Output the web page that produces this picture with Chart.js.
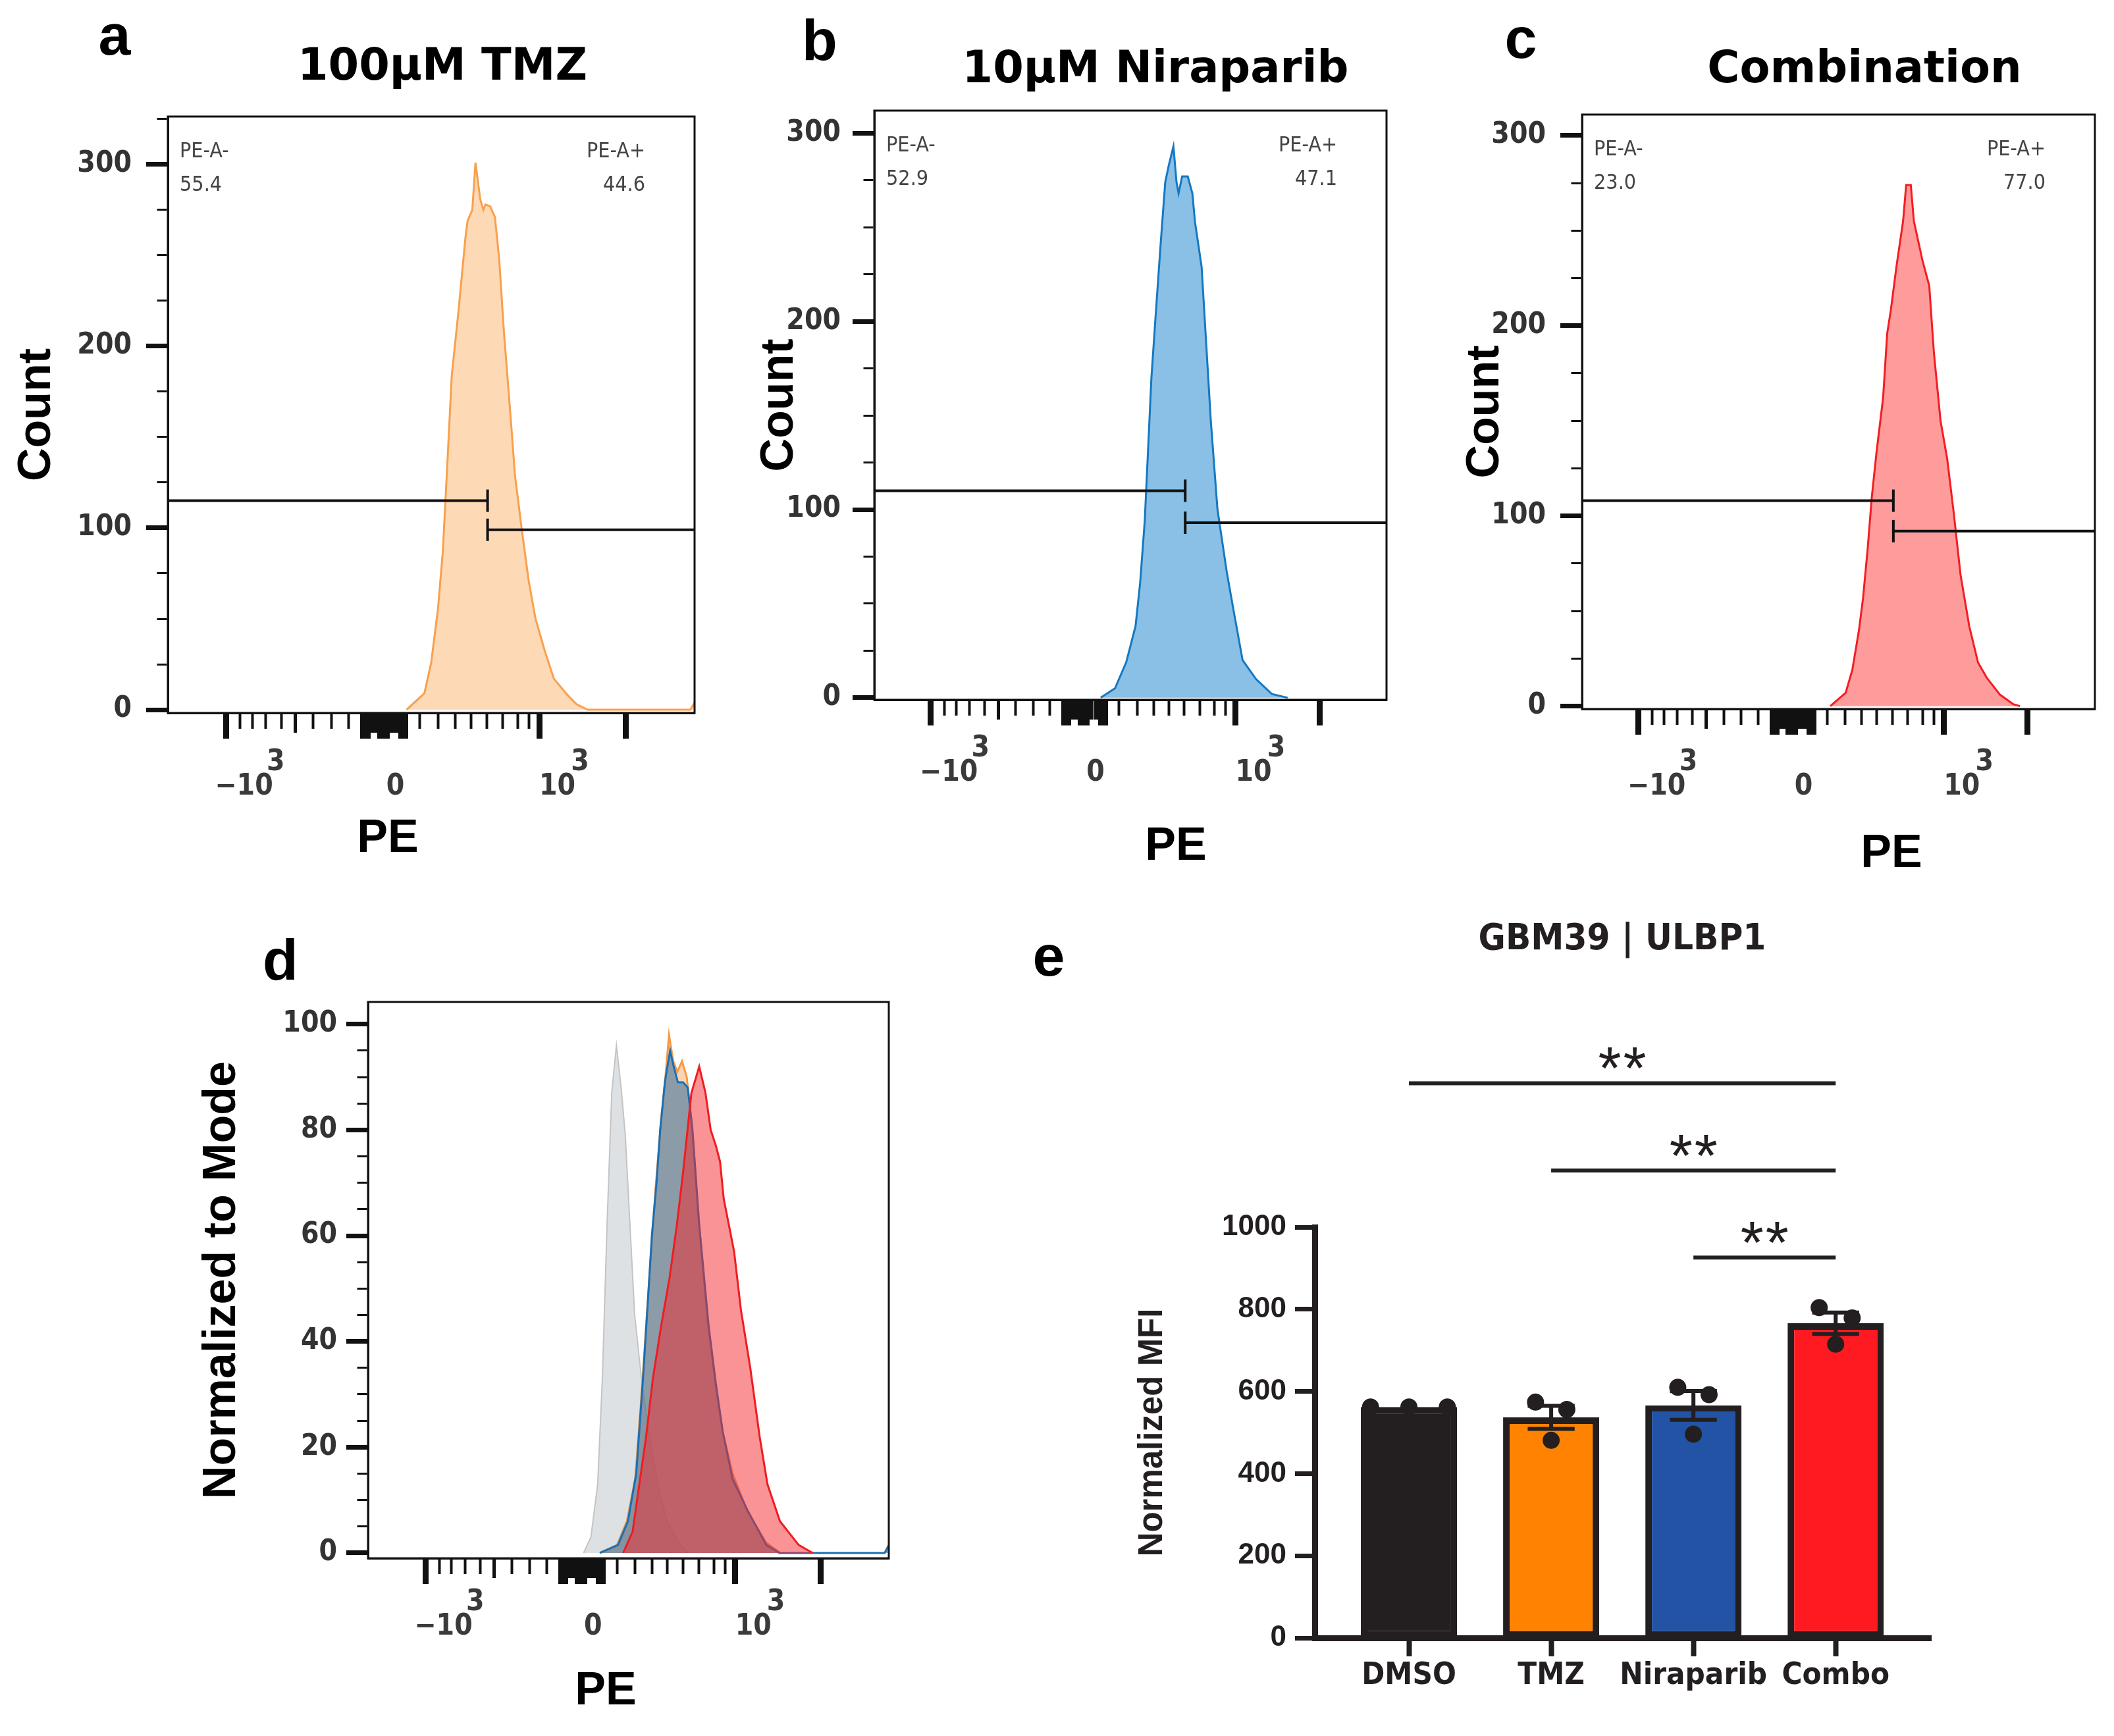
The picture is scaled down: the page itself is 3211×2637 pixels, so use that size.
<!DOCTYPE html>
<html>
<head>
<meta charset="utf-8">
<title>GBM39 ULBP1 flow panels</title>
<script src="https://cdn.jsdelivr.net/npm/chart.js@4.4.1/dist/chart.umd.min.js"></script>
<style>
  html, body { margin: 0; padding: 0; background: #fff; }
  body { position: relative; width: 3211px; height: 2637px; overflow: hidden; }
  canvas { position: absolute; }
  .t { position: absolute; transform: translate(-50%, -50%); white-space: nowrap; line-height: 1; color: #000; font-weight: bold; }
  .letter { font-family: 'Liberation Sans', Arial, sans-serif; font-size: 88px; }
  .title { font-family: 'DejaVu Sans', sans-serif; font-size: 67px; }
  .axis { font-family: 'Liberation Sans', Arial, sans-serif; font-size: 70px; }
</style>
</head>
<body>
<canvas id="chartA" width="1080" height="1120" style="left:0;top:100px"></canvas>
<canvas id="chartB" width="1070" height="1120" style="left:1080px;top:100px"></canvas>
<canvas id="chartC" width="1051" height="1120" style="left:2160px;top:100px"></canvas>
<canvas id="chartD" width="1100" height="1100" style="left:280px;top:1420px"></canvas>
<canvas id="chartE" width="1400" height="1257" style="left:1640px;top:1380px"></canvas>

<div class="t letter" style="left:174px;top:53px">a</div>
<div class="t letter" style="left:1245px;top:61px">b</div>
<div class="t letter" style="left:2310px;top:58px">c</div>
<div class="t letter" style="left:426px;top:1458px">d</div>
<div class="t letter" style="left:1593px;top:1452px">e</div>

<div class="t title" style="left:672px;top:98px">100μM TMZ</div>
<div class="t title" style="left:1755px;top:102px">10μM Niraparib</div>
<div class="t title" style="left:2832px;top:102px">Combination</div>

<div class="t axis" style="left:589px;top:1270px">PE</div>
<div class="t axis" style="left:1786px;top:1282px">PE</div>
<div class="t axis" style="left:2873px;top:1293px">PE</div>
<div class="t axis" style="left:920px;top:2565px">PE</div>

<div class="t" id="titleE" style="left:2464px;top:1423px;font-size:66px;color:#231f20">GBM39 | ULBP1</div>

<script>
// ---------- data: PE axis (display channel 0-1000) ----------
const peTickMajor = [110, 371, 375, 379, 403, 407, 411, 415, 443, 447, 451, 705, 869];
const peTickMid = [242, 384, 389, 394, 399, 420, 425, 432, 437];
const peTickMinor = [137, 160, 186, 215, 276, 310, 343, 478, 513, 545, 575, 605, 635, 664, 686];
// [base, exponent]
const peTickLabels = {110: ['−10', '3'], 432: ['0', ''], 705: ['10', '3']};

const countTickVals = [0, 25, 50, 75, 100, 125, 150, 175, 200, 225, 250, 275, 300, 325];
const countTickLabels = {0: '0', 100: '100', 200: '200', 300: '300'};
const modeTickVals = [0, 5, 10, 15, 20, 25, 30, 35, 40, 45, 50, 55, 60, 65, 70, 75, 80, 85, 90, 95, 100];
const modeTickLabels = {0: '0', 20: '20', 40: '40', 60: '60', 80: '80', 100: '100'};

// panel a: 100uM TMZ (counts)
const tmzX = [453, 487, 500, 513, 522, 530, 539, 552, 565, 569, 578, 584, 593, 599, 603, 612, 621, 629, 638, 651, 659, 672, 685, 698, 716, 733, 759, 776, 797, 992, 1000];
const tmzY = [0, 9, 26, 56, 87, 132, 184, 220, 260, 269, 275, 301, 281, 275, 278, 277, 271, 248, 208, 160, 129, 99, 71, 50, 32, 17, 8, 3, 0, 0, 4];
// panel b: 10uM Niraparib (counts)
const niraX = [442, 470, 492, 510, 519, 528, 534, 541, 550, 559, 568, 575, 584, 590, 594, 601, 612, 621, 626, 639, 648, 657, 670, 688, 701, 719, 745, 776, 807];
const niraY = [0, 5, 19, 38, 61, 94, 129, 170, 206, 241, 274, 283, 293, 274, 268, 277, 277, 268, 253, 229, 188, 147, 100, 67, 47, 20, 10, 2, 0];
// panel c: Combination (counts)
const comboX = [484, 514, 527, 540, 548, 557, 565, 574, 587, 595, 602, 613, 626, 632, 641, 647, 664, 677, 686, 699, 712, 725, 738, 755, 772, 789, 815, 841, 854];
const comboY = [0, 7, 19, 40, 57, 83, 110, 133, 162, 196, 208, 231, 255, 274, 274, 255, 234, 221, 186, 150, 130, 101, 69, 42, 23, 15, 6, 1, 0];

// gates
const gateLabels = ['PE-A-', 'PE-A+'];
const gateSplit = 607;
const tmzGate = ['55.4', '44.6'];
const niraGate = ['52.9', '47.1'];
const comboGate = ['23.0', '77.0'];
const tmzGateY = [115, 99];
const niraGateY = [110, 93];
const comboGateY = [108, 92];

// panel d: normalized to mode overlay
const ctrlX = [414, 428, 441, 450, 459, 468, 477, 486, 494, 503, 512, 525, 539, 556, 574, 596, 614];
const ctrlY = [0, 3, 13, 33, 62, 87, 96, 88, 79, 62, 45, 33, 23, 13, 6, 2, 0];
const tmzNormX = [445, 478, 497, 513, 526, 536, 545, 553, 562, 571, 578, 586, 594, 603, 612, 622, 635, 652, 667, 681, 700, 728, 764, 792];
const tmzNormY = [0, 1.5, 6, 14, 31, 46, 59, 70, 81, 90, 98, 93, 91, 93, 90, 81, 63, 44, 32, 23, 15, 8, 2, 0];
const niraNormX = [445, 480, 499, 515, 528, 537, 545, 554, 561, 570, 580, 587, 595, 605, 614, 623, 636, 654, 668, 681, 700, 729, 765, 790, 992, 1000];
const niraNormY = [0, 1.5, 6, 15, 33, 47, 60, 70, 80, 89, 95, 92, 89, 89, 88, 80, 62, 43, 32, 23, 14, 8, 1.5, 0, 0, 1.5];
const comboNormX = [490, 508, 521, 534, 547, 563, 579, 593, 605, 621, 636, 648, 658, 668, 676, 683, 703, 716, 734, 752, 767, 791, 827, 854];
const comboNormY = [0, 4, 13, 22, 33, 43, 52, 62, 72, 87, 92, 87, 80, 77, 74, 67, 57, 46, 35, 22, 13, 6, 1.5, 0];

// panel e: GBM39 | ULBP1
const groups = ['DMSO', 'TMZ', 'Niraparib', 'Combo'];
const mfiMean = [562, 537, 566, 766];
const mfiSem = [0, 28, 35, 26];
const mfiReps = [[562, 562, 562], [574, 556, 481], [610, 592, 496], [804, 779, 715]];
const mfiTickVals = [0, 200, 400, 600, 800, 1000];
const sigPairs = [[0, 3], [1, 3], [2, 3]];
const sigLevel = [1350, 1138, 926];
const sigText = ['**', '**', '**'];

// ---------- fonts ----------
function hasFont(name) {
  const c = document.createElement('canvas').getContext('2d');
  const s = 'mmmmmmmmmmlli1000WWWwww';
  let diff = false;
  ['monospace', 'serif'].forEach(fb => {
    c.font = '72px ' + fb;
    const a = c.measureText(s).width;
    c.font = '72px "' + name + '", ' + fb;
    if (c.measureText(s).width !== a) diff = true;
  });
  return diff;
}
let NARROW = 'Liberation Sans', NARROW_K = 0.82;
if (hasFont('Liberation Sans Narrow')) { NARROW = 'Liberation Sans Narrow'; NARROW_K = 1; }
else if (hasFont('DejaVu Sans Condensed')) { NARROW = 'DejaVu Sans Condensed'; NARROW_K = 0.85; }
const narrowFont = (size, weight) => ({family: NARROW, size: Math.round(size * NARROW_K), weight});
document.getElementById('titleE').style.fontFamily = '"' + NARROW + '", sans-serif';
document.getElementById('titleE').style.fontSize = Math.round(66 * NARROW_K) + 'px';

Chart.defaults.font.family = 'Liberation Sans';

// ---------- helpers ----------
const peTicks = [...peTickMajor, ...peTickMid, ...peTickMinor].sort((a, b) => a - b);
const peKind = v => peTickMajor.includes(v) ? 'major' : (peTickMid.includes(v) ? 'mid' : 'minor');
const peWidth = {major: 9, mid: 5, minor: 4};
const peDash = {major: [], mid: [28, 100], minor: [22, 100]};
const PE_TICK_LEN = 39;
const peFont = Object.assign(narrowFont(52, 'bold'), {lineHeight: 0.85});

// two-line label: raised exponent on top, base below, both shifted right of the tick
const measureCtx = document.createElement('canvas').getContext('2d');
measureCtx.font = peFont.weight + ' ' + peFont.size + 'px "' + peFont.family + '"';
const spaceW = measureCtx.measureText(' ').width;
const spaces = w => ' '.repeat(Math.max(0, Math.round(w / spaceW)));
function peLabel(v) {
  const l = peTickLabels[v];
  if (!l) return '';
  if (!l[1]) return ['', l[0]];
  const baseShift = 28;                            // centre of base right of tick
  const wb = measureCtx.measureText(l[0]).width;
  const we = measureCtx.measureText(l[1]).width;
  const expShift = baseShift + wb / 2 - 10 + we / 2; // centre of exponent right of tick
  return [spaces(2 * expShift) + l[1], spaces(2 * baseShift) + l[0]];
}

const framePlugin = {
  id: 'frame',
  afterDraw(chart) {
    const {ctx, chartArea: a} = chart;
    ctx.save();
    ctx.strokeStyle = '#111';
    ctx.lineWidth = 3;
    ctx.strokeRect(a.left, a.top, a.right - a.left, a.bottom - a.top);
    ctx.restore();
  }
};

const gateTextPlugin = {
  id: 'gateText',
  afterDatasetsDraw(chart, args, opts) {
    if (!opts || !opts.values) return;
    const {ctx, chartArea: a} = chart;
    const f = narrowFont(38, 'normal');
    ctx.save();
    ctx.font = f.weight + ' ' + f.size + 'px "' + f.family + '"';
    ctx.fillStyle = '#444';
    ctx.textBaseline = 'alphabetic';
    ctx.textAlign = 'left';
    ctx.fillText(gateLabels[0], a.left + 18, a.top + 62);
    ctx.fillText(opts.values[0], a.left + 18, a.top + 113);
    ctx.textAlign = 'right';
    ctx.fillText(gateLabels[1], a.right - 75, a.top + 62);
    ctx.fillText(opts.values[1], a.right - 75, a.top + 113);
    ctx.restore();
  }
};

function gateSets(gy) {
  const common = {borderColor: '#111', borderWidth: 4, fill: false, tension: 0,
    pointStyle: 'line', pointRotation: 90, pointBorderColor: '#111', pointBorderWidth: 4};
  return [
    Object.assign({data: [{x: 0, y: gy[0]}, {x: gateSplit, y: gy[0]}], pointRadius: [0, 17]}, common),
    Object.assign({data: [{x: gateSplit, y: gy[1]}, {x: 1000, y: gy[1]}], pointRadius: [17, 0]}, common)
  ];
}

function flowHistogram(id, cfg) {
  const yTicks = cfg.yTickVals.filter(v => v <= cfg.yMax);
  const isMajorY = c => c.tick && cfg.yLabels[c.tick.value] !== undefined;
  // padding so that the centre of the base line lands cfg.xLabelCenter px below the axis
  const xPad = cfg.xLabelCenter + 10 - PE_TICK_LEN - 1.5 * peFont.lineHeight * peFont.size;
  let datasets = cfg.gates ? gateSets(cfg.gates) : [];
  cfg.curves.forEach(c => datasets.push({
    data: c.x.map((x, i) => ({x: x, y: c.y[i]})),
    borderColor: c.line,
    backgroundColor: c.fill,
    borderWidth: c.width || 3,
    fill: 'origin',
    pointRadius: 0,
    tension: 0
  }));
  new Chart(document.getElementById(id), {
    type: 'line',
    data: {datasets},
    options: {
      responsive: false,
      animation: false,
      devicePixelRatio: 1,
      layout: {padding: {top: cfg.padTop, right: cfg.padRight, left: 0, bottom: 0}},
      plugins: {
        legend: {display: false},
        tooltip: {enabled: false},
        gateText: cfg.gateText ? {values: cfg.gateText} : false
      },
      scales: {
        x: {
          type: 'linear', min: 0, max: 1000,
          afterBuildTicks: s => { s.ticks = peTicks.map(v => ({value: v})); },
          afterFit: s => { s.height = cfg.xHeight; },
          border: {display: true, color: '#111', width: 3},
          grid: {
            drawOnChartArea: false, tickLength: PE_TICK_LEN, tickColor: '#111',
            tickWidth: c => c.tick ? peWidth[peKind(c.tick.value)] : 4,
            tickBorderDash: c => c.tick ? peDash[peKind(c.tick.value)] : []
          },
          ticks: {
            autoSkip: false, maxRotation: 0, padding: xPad, color: '#3a3a3a',
            font: peFont,
            callback: v => peLabel(v)
          }
        },
        y: {
          min: cfg.yMin, max: cfg.yMax,
          afterBuildTicks: s => { s.ticks = yTicks.map(v => ({value: v})); },
          afterFit: s => { s.width = cfg.yWidth; },
          border: {display: true, color: '#111', width: 3},
          grid: {
            drawOnChartArea: false, tickLength: 33, tickColor: '#111',
            tickWidth: c => isMajorY(c) ? 7 : 3,
            tickBorderDash: c => isMajorY(c) ? [] : [15, 100],
            tickBorderDashOffset: c => isMajorY(c) ? 0 : 15 - 31.5
          },
          ticks: {
            autoSkip: false, padding: cfg.yLabelPad, color: '#333',
            font: narrowFont(52, 'bold'),
            callback: v => cfg.yLabels[v] || ''
          },
          title: {
            display: true, text: cfg.yTitle, color: '#000',
            font: {family: 'Liberation Sans', size: 70, weight: 'bold'},
            padding: {top: cfg.yTitlePad, bottom: 0}
          }
        }
      }
    },
    plugins: [framePlugin, gateTextPlugin]
  });
}

// ---------- panels a-c ----------
flowHistogram('chartA', {
  curves: [{x: tmzX, y: tmzY, line: '#f9a04d', fill: '#fdd9b5'}],
  gates: tmzGateY, gateText: tmzGate,
  yMin: -1.8, yMax: 326.4, yTickVals: countTickVals, yLabels: countTickLabels, yTitle: 'Count',
  yWidth: 255, yTitlePad: 15, yLabelPad: 22, padTop: 77, padRight: 25, xHeight: 137, xLabelCenter: 103
});
flowHistogram('chartB', {
  curves: [{x: niraX, y: niraY, line: '#1479c2', fill: '#8abfe6'}],
  gates: niraGateY, gateText: niraGate,
  yMin: -1.1, yMax: 312, yTickVals: countTickVals, yLabels: countTickLabels, yTitle: 'Count',
  yWidth: 248, yTitlePad: 63, yLabelPad: 18, padTop: 68, padRight: 44, xHeight: 157, xLabelCenter: 102
});
flowHistogram('chartC', {
  curves: [{x: comboX, y: comboY, line: '#f41d22', fill: '#fe9c9c'}],
  gates: comboGateY, gateText: comboGate,
  yMin: -1.5, yMax: 311, yTickVals: countTickVals, yLabels: countTickLabels, yTitle: 'Count',
  yWidth: 243, yTitlePad: 55, yLabelPad: 22, padTop: 74, padRight: 29, xHeight: 143, xLabelCenter: 109
});

// ---------- panel d: overlay (top-most first) ----------
flowHistogram('chartD', {
  curves: [
    {x: comboNormX, y: comboNormY, line: '#f01c20', fill: 'rgba(245,40,45,0.5)'},
    {x: niraNormX, y: niraNormY, line: '#1a6fb5', fill: 'rgba(30,100,160,0.5)'},
    {x: tmzNormX, y: tmzNormY, line: '#f59a45', fill: 'rgba(250,170,100,0.5)'},
    {x: ctrlX, y: ctrlY, line: '#c4c4c4', fill: 'rgba(195,200,205,0.55)', width: 2}
  ],
  yMin: -1, yMax: 104.2, yTickVals: modeTickVals, yLabels: modeTickLabels, yTitle: 'Normalized to Mode',
  yWidth: 279, yTitlePad: 16, yLabelPad: 14, padTop: 102, padRight: 30, xHeight: 153, xLabelCenter: 95
});

// ---------- panel e: bar chart ----------
const ink = '#231f20';
const barColors = ['#231f20', '#ff8200', '#2253a5', '#ff1a22'];
const dotJitter = [[-0.27, 0, 0.27], [-0.11, 0.11, 0], [-0.11, 0.11, 0], [-0.116, 0.116, 0]];

const errorBarPlugin = {
  id: 'errorBars',
  beforeDatasetDraw(chart, args) {
    if (args.index !== 0) return;
    const {ctx, scales: {x, y}} = chart;
    ctx.save();
    ctx.strokeStyle = ink;
    ctx.lineWidth = 6;
    mfiMean.forEach((m, i) => {
      if (!mfiSem[i]) return;
      const xc = x.getPixelForValue(i);
      const cap = x.getPixelForValue(i + 0.165) - xc;
      const top = y.getPixelForValue(m + mfiSem[i]);
      const bot = y.getPixelForValue(m - mfiSem[i]);
      ctx.beginPath();
      ctx.moveTo(xc, top); ctx.lineTo(xc, bot);
      ctx.moveTo(xc - cap, top); ctx.lineTo(xc + cap, top);
      ctx.moveTo(xc - cap, bot); ctx.lineTo(xc + cap, bot);
      ctx.stroke();
    });
    ctx.restore();
  }
};

const sigPlugin = {
  id: 'sigBars',
  afterDraw(chart) {
    const {ctx, scales: {x, y}} = chart;
    ctx.save();
    ctx.strokeStyle = ink;
    ctx.fillStyle = ink;
    ctx.lineWidth = 6;
    ctx.font = '90px "Liberation Sans"';
    ctx.textAlign = 'center';
    ctx.textBaseline = 'alphabetic';
    sigPairs.forEach((p, k) => {
      const x1 = x.getPixelForValue(p[0]);
      const x2 = x.getPixelForValue(p[1]);
      const py = y.getPixelForValue(sigLevel[k]);
      ctx.beginPath();
      ctx.moveTo(x1, py); ctx.lineTo(x2, py);
      ctx.stroke();
      const cx = (x1 + x2) / 2;
      const chars = sigText[k].split('');
      chars.forEach((ch, j) => {
        const off = (j - (chars.length - 1) / 2) * 38;
        ctx.fillText(ch, cx + off, py - 42 + 0.565 * 90);
      });
    });
    ctx.restore();
  }
};

new Chart(document.getElementById('chartE'), {
  type: 'bar',
  data: {
    datasets: [
      {
        type: 'scatter',
        data: mfiReps.flatMap((reps, i) => reps.map((v, j) => ({x: i + dotJitter[i][j], y: v}))),
        backgroundColor: ink, borderWidth: 0, pointRadius: 13, order: 0
      },
      {
        type: 'bar',
        data: mfiMean.map((v, i) => ({x: i, y: v})),
        backgroundColor: barColors, borderColor: ink, borderWidth: 10, borderSkipped: false,
        barPercentage: 0.676, categoryPercentage: 1, order: 1
      }
    ]
  },
  options: {
    responsive: false,
    animation: false,
    devicePixelRatio: 1,
    layout: {padding: {top: 484, right: 107, left: 0, bottom: 0}},
    plugins: {legend: {display: false}, tooltip: {enabled: false}},
    scales: {
      x: {
        type: 'linear', min: -0.662, max: 3.67, offset: false,
        afterBuildTicks: s => { s.ticks = groups.map((g, i) => ({value: i})); },
        afterFit: s => { s.height = 149; },
        border: {display: true, color: ink, width: 9},
        grid: {offset: false, drawOnChartArea: false, tickLength: 28, tickWidth: 8, tickColor: ink},
        ticks: {autoSkip: false, maxRotation: 0, padding: 2, color: ink, font: narrowFont(55, 'bold'),
          callback: v => groups[v] || ''}
      },
      y: {
        min: 0, max: 1000,
        afterBuildTicks: s => { s.ticks = mfiTickVals.map(v => ({value: v})); },
        afterFit: s => { s.width = 357; },
        border: {display: true, color: ink, width: 9},
        grid: {drawOnChartArea: false, tickLength: 30, tickWidth: 7, tickColor: ink},
        ticks: {padding: 13, color: ink, font: {family: 'Liberation Sans', size: 44, weight: 'bold'},
          callback: v => String(v)},
        title: {display: true, text: 'Normalized MFI', color: ink,
          font: {family: 'Liberation Sans', size: 51, weight: 'bold'}, padding: {top: 80, bottom: 0}}
      }
    }
  },
  plugins: [errorBarPlugin, sigPlugin]
});
</script>
</body>
</html>
